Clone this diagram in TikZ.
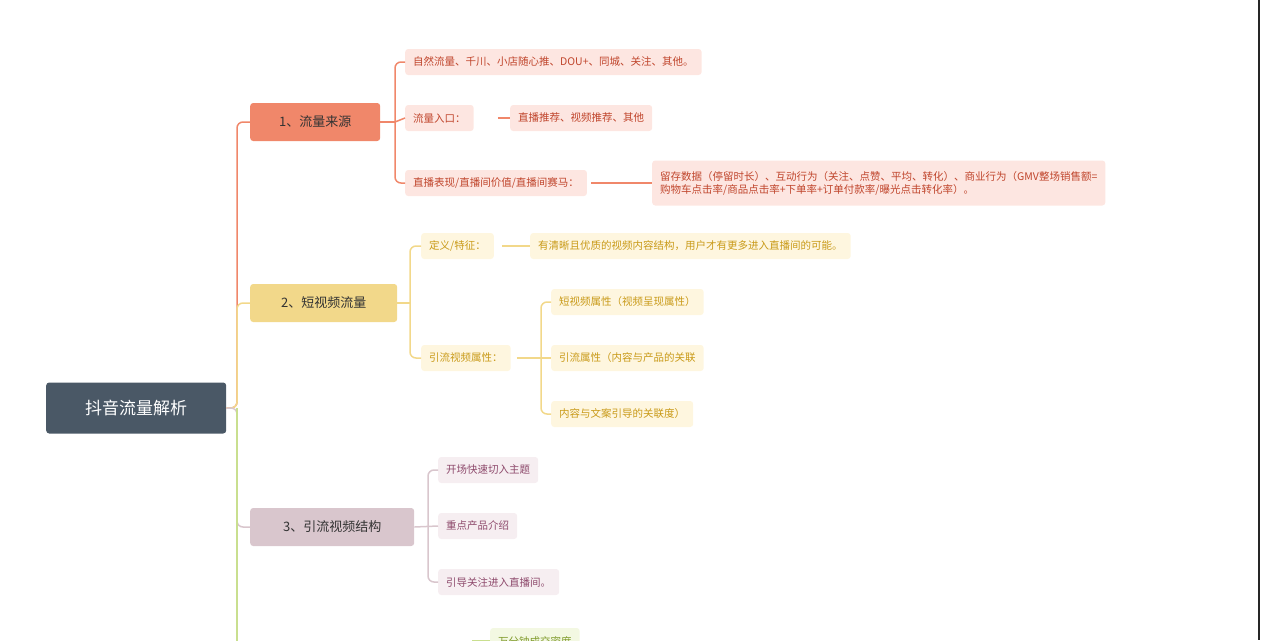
\documentclass[tikz,border=0pt]{standalone}
\usepackage{fontspec}
\setmainfont{Noto Sans CJK SC}
\begin{document}
\begin{tikzpicture}[x=1pt,y=-1pt,
 leaf/.style={rounded corners=3pt,inner xsep=8pt,inner ysep=0pt,anchor=west,minimum height=26pt,font=\fontsize{10.5}{13}\selectfont},
 l1/.style={leaf,fill=c1f,text=c1t},
 l2/.style={leaf,fill=c2f,text=c2t},
 l3/.style={leaf,fill=c3f,text=c3t},
 main/.style={rounded corners=3pt,anchor=west,inner sep=0pt,minimum height=38pt,font=\fontsize{13}{15}\selectfont,text=black!80},
 ln/.style={line width=1.5pt,rounded corners=6pt}]
\definecolor{c0}{HTML}{4A5866}
\definecolor{c1}{HTML}{F0876A}\definecolor{c1f}{HTML}{FDE6E1}\definecolor{c1t}{HTML}{C0452C}
\definecolor{c2}{HTML}{F2D88A}\definecolor{c2f}{HTML}{FEF6DF}\definecolor{c2t}{HTML}{C99A18}
\definecolor{c3}{HTML}{D9C6CD}\definecolor{c3f}{HTML}{F6EEF1}\definecolor{c3t}{HTML}{8E4A6C}
\definecolor{c4}{HTML}{C9DF8F}\definecolor{c4f}{HTML}{F3F8E2}\definecolor{c4t}{HTML}{7F9A2A}
\useasboundingbox (0,0) rectangle (1261,640);
\begin{scope}
\clip (0,0) rectangle (1261,640);
\node[rounded corners=3pt,fill=c0,inner sep=0pt,minimum width=180pt,minimum height=51pt,text=white,font=\fontsize{17}{19}\selectfont,anchor=west] (root) at (46,408) {抖音流量解析};
\node[main,fill=c1,minimum width=130pt] (b1) at (250,122) {1、流量来源};
\node[main,fill=c2,minimum width=147pt] (b2) at (250,303) {2、短视频流量};
\node[main,fill=c3,minimum width=164pt] (b3) at (250,527) {3、引流视频结构};
\coordinate (t) at (237,408);
\draw[ln,c1] (root.east) -- (t) |- (b1.west);
\draw[ln,c2] (root.east) -- (t) |- (b2.west);
\draw[ln,c3] (root.east) -- (t) |- (b3.west);
\draw[ln,c4] (t) -- (237,660);
% branch 1
\node[l1] (a1) at (405,62) {自然流量、千川、小店随心推、DOU+、同城、关注、其他。};
\node[l1] (a2) at (405,118) {流量入口：};
\node[l1] (a2b) at (510,118) {直播推荐、视频推荐、其他};
\node[l1] (a3) at (405,183) {直播表现/直播间价值/直播间赛马：};
\node[l1,minimum height=45pt,align=left] (a3b) at (652,183) {留存数据（停留时长）、互动行为（关注、点赞、平均、转化）、商业行为（GMV整场销售额=\\购物车点击率/商品点击率+下单率+订单付款率/曝光点击转化率）。};
\draw[line width=1.5pt,c1] (b1.east) -- (395,122);
\foreach \n in {a1,a3}{\draw[ln,c1] (395,122) |- (\n.west);}
\draw[line width=1.5pt,c1] (395,122) -- (a2.west);
\draw[ln,c1] (a2.east) ++(24,0) -- (a2b.west);
\draw[ln,c1] (a3.east) ++(4,0) -- (a3b.west);
% branch 2
\node[l2] (d1) at (421,246) {定义/特征：};
\node[l2] (d1b) at (530,246) {有清晰且优质的视频内容结构，用户才有更多进入直播间的可能。};
\node[l2] (d2) at (421,358) {引流视频属性：};
\node[l2] (e1) at (551,302) {短视频属性（视频呈现属性）};
\node[l2] (e2) at (551,358) {引流属性（内容与产品的关联};
\node[l2] (e3) at (551,414) {内容与文案引导的关联度）};
\draw[line width=1.5pt,c2] (b2.east) -- (410,303);
\foreach \n in {d1,d2}{\draw[ln,c2] (410,303) |- (\n.west);}
\draw[ln,c2] (d1.east) ++(8,0) -- (d1b.west);
\draw[line width=1.5pt,c2] (d2.east) ++(6,0) -- (e2.west);
\foreach \n in {e1,e3}{\draw[ln,c2] (541,358) |- (\n.west);}
% branch 3
\node[l3] (f1) at (438,470) {开场快速切入主题};
\node[l3] (f2) at (438,526) {重点产品介绍};
\node[l3] (f3) at (438,582) {引导关注进入直播间。};
\draw[line width=1.5pt,c3] (b3.east) -- (f2.west);
\foreach \n in {f1,f3}{\draw[ln,c3] (428,527) |- (\n.west);}
% partial branch 4
\node[leaf,fill=c4f,text=c4t] (g1) at (490,641) {万分钟成交密度};
\coordinate (g0) at (472,641);
\draw[ln,c4] (g0) -- (g1.west);
\draw[line width=2pt,black!85] (1259,0) -- (1259,640);
\end{scope}
\end{tikzpicture}
\end{document}
